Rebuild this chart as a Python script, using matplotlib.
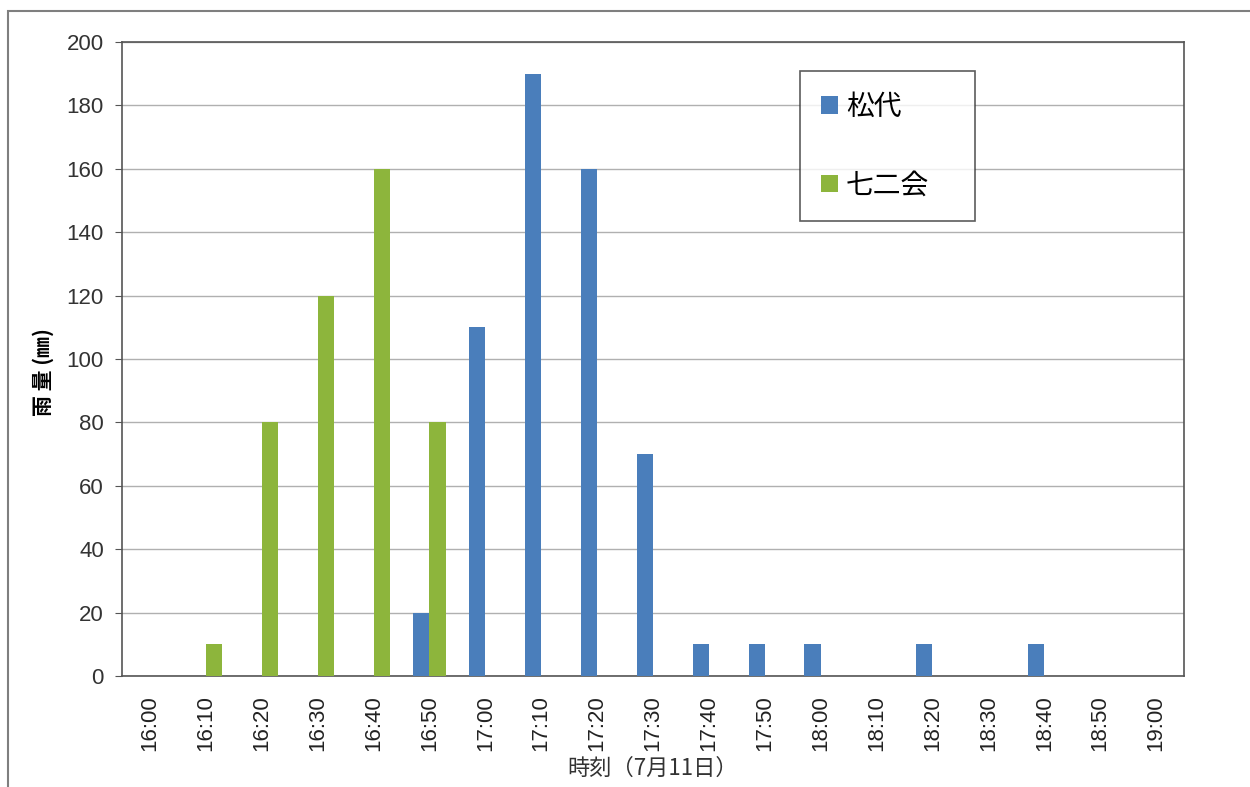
import numpy as np
import matplotlib
matplotlib.use("Agg")
from matplotlib import pyplot as plt
from matplotlib.patches import Rectangle

plt.rcParams['font.family'] = ['Noto Sans CJK JP', 'DejaVu Sans']

# 時刻 (7月11日)
times = ["16:00", "16:10", "16:20", "16:30", "16:40", "16:50", "17:00", "17:10",
         "17:20", "17:30", "17:40", "17:50", "18:00", "18:10", "18:20", "18:30",
         "18:40", "18:50", "19:00"]
matsushiro = [0, 0, 0, 0, 0, 20, 110, 190, 160, 70, 10, 10, 10, 0, 10, 0, 10, 0, 0]
nanakai = [0, 10, 80, 120, 160, 80, 0, 0, 0, 0, 0, 0, 0, 0, 0, 0, 0, 0, 0]
yticks = [0, 20, 40, 60, 80, 100, 120, 140, 160, 180, 200]

fig = plt.figure(figsize=(12.5, 7.87), dpi=100)
ax = fig.add_axes([122 / 1250, 1 - 676 / 787, (1184 - 122) / 1250, (676 - 42) / 787])

# 外枠
fig.patches.append(Rectangle((8 / 1250, -0.1), 1.2, 1 - 11 / 787 + 0.1,
                             transform=fig.transFigure, fill=False,
                             edgecolor="#7f7f7f", linewidth=1.5))

x = np.arange(len(times))
w = 0.29
ax.bar(x - w / 2, matsushiro, w, color="#4a7ebb", label="松代", zorder=3)
ax.bar(x + w / 2, nanakai, w, color="#8db53c", label="七二会", zorder=3)

ax.set_xlim(-0.5, len(times) - 0.5)
ax.set_ylim(0, 200)
ax.set_yticks(yticks)
ax.set_xticks(x)
ax.set_xticklabels(times, rotation=90, fontsize=16, family=['Liberation Sans'])
ax.tick_params(axis="x", length=0, pad=14, labelcolor="#222222")
ax.tick_params(axis="y", length=5, direction="out", color="#555555", labelsize=16,
               labelcolor="#333333", pad=8)
for lbl in ax.get_yticklabels():
    lbl.set_family(['Liberation Sans'])
ax.grid(axis="y", color="#b0b0b0", linewidth=1, zorder=0)
for s in ax.spines.values():
    s.set_color("#555555")
    s.set_linewidth(1.2)

ax.set_ylabel("雨 量 (㎜)", fontsize=15, fontweight="bold", labelpad=4)
ax.yaxis.set_label_coords(-68 / 1062, 0.48)
ax.set_xlabel("時刻（7月11日）", fontsize=16, color="#333333", labelpad=4)

leg = ax.legend(loc="upper left",
                bbox_to_anchor=((800 - 122) / 1062, 1 - (71 - 42) / 634, 175 / 1062, 0),
                mode="expand",
                fontsize=20, frameon=True, fancybox=False, edgecolor="#333333",
                handlelength=0.6, handleheight=0.6, handletextpad=0.3,
                labelspacing=1.75, borderpad=0.75, borderaxespad=0)
leg.get_frame().set_linewidth(1.2)

plt.savefig("out.png", dpi=100)
